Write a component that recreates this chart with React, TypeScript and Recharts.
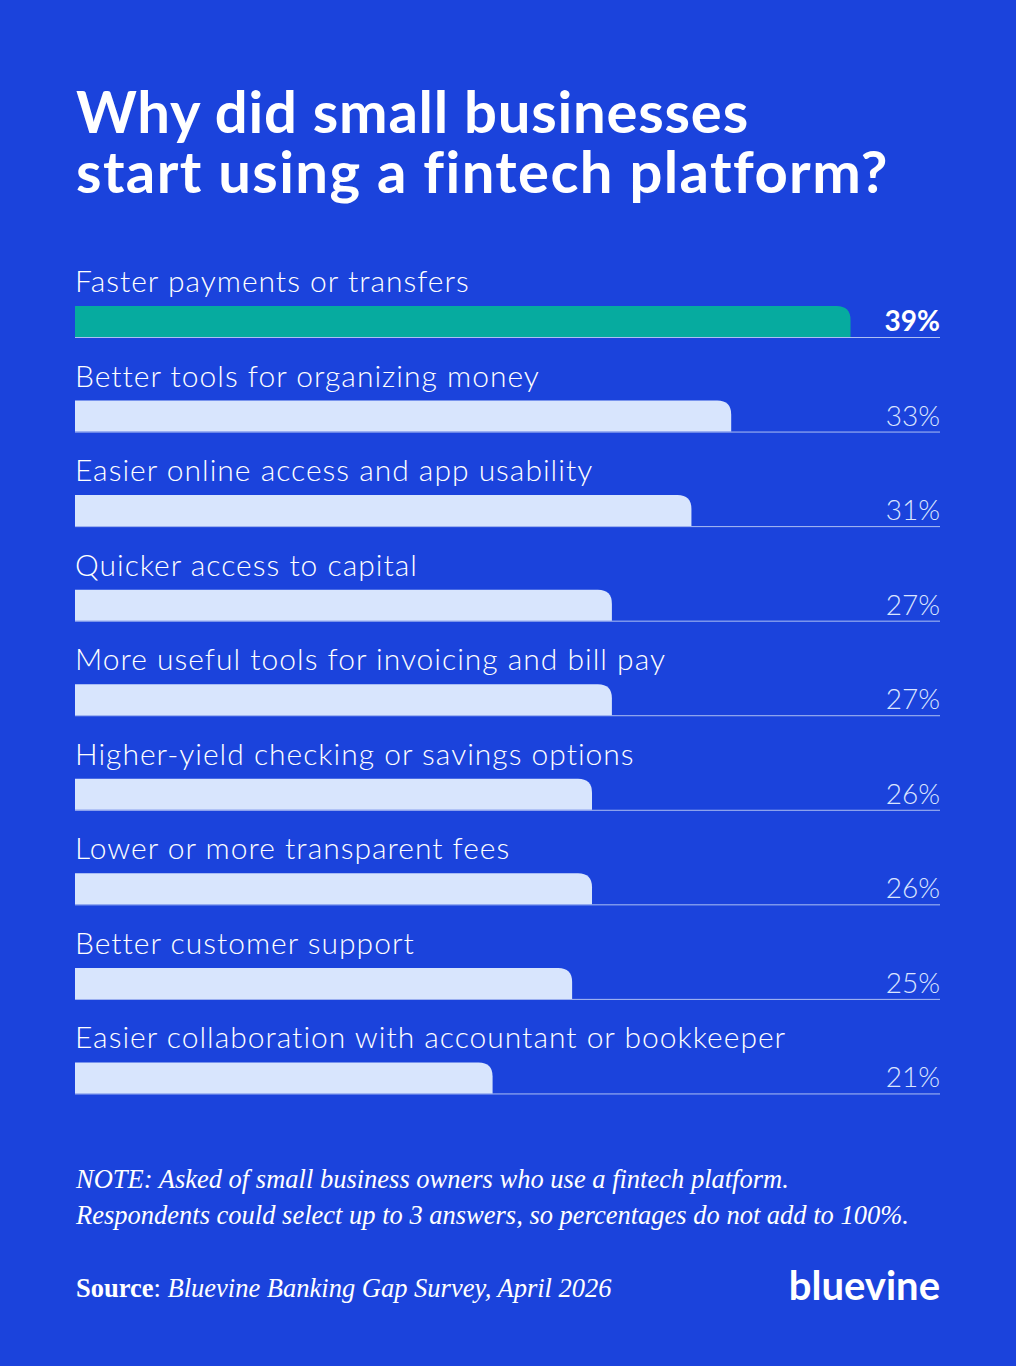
import React from "react";
import { BarChart, Bar, XAxis, YAxis } from "recharts";

// reasons small businesses started using a fintech platform (% of respondents)
const reasons = [
    "Faster payments or transfers",
    "Better tools for organizing money",
    "Easier online access and app usability",
    "Quicker access to capital",
    "More useful tools for invoicing and bill pay",
    "Higher-yield checking or savings options",
    "Lower or more transparent fees",
    "Better customer support",
    "Easier collaboration with accountant or bookkeeper",
];
const shares = [39, 33, 31, 27, 27, 26, 26, 25, 21];

const BG = "#1b43dc";
const TEAL = "#06ab9f";
const PALE = "#d8e5fd";
const RULE = "#aebff3";
const SANS = "Lato, 'Open Sans', sans-serif";
const SERIF = "'Liberation Serif', 'DejaVu Serif', serif";

const data = reasons.map((name, i) => ({ name, value: shares[i] }));

const RIGHT_EDGE = 940;

function RowShape(props: any) {
    const { x, y, width, height, index, payload } = props;
    const r = Math.min(14, width);
    const top = index === 0;
    const x2 = x + width;
    const y2 = y + height;
    const d = `M${x},${y2} L${x},${y} L${x2 - r},${y} Q${x2},${y} ${x2},${y + r} L${x2},${y2} Z`;
    return (
        <g>
            <line x1={x} x2={RIGHT_EDGE} y1={y2 + 0.5} y2={y2 + 0.5} stroke={RULE} strokeWidth={1} />
            <path d={d} fill={top ? TEAL : PALE} />
            <text x={x} y={y - 14} fill="#fff" fontFamily={SANS} fontSize={30} fontWeight={300} letterSpacing={1}>
                {payload.name}
            </text>
            <text
                x={RIGHT_EDGE}
                y={y2 - 6}
                textAnchor="end"
                fill={top ? "#fff" : "#dbe5ff"}
                fontFamily={SANS}
                fontSize={28}
                fontWeight={top ? 700 : 300}
            >
                {payload.value}%
            </text>
        </g>
    );
}

export default function App() {
    return (
        <div style={{ position: "absolute", left: 0, top: 0, width: 1016, height: 1366, background: BG, overflow: "hidden" }}>
            <svg width={1016} height={1366} style={{ position: "absolute", left: 0, top: 0 }}>
                <text fill="#fff" fontFamily={SANS} fontSize={58} fontWeight={700} style={{ fontVariantLigatures: "none" }}>
                    <tspan x={76} y={133} letterSpacing={0.8}>Why did small businesses</tspan>
                    <tspan x={76} y={193} letterSpacing={1.4}>start using a fintech platform?</tspan>
                </text>
                <g fill="#fff" fontFamily={SERIF} fontSize={26.5}>
                    <text x={76} y={1188} fontStyle="italic">
                        NOTE: Asked of small business owners who use a fintech platform.
                    </text>
                    <text x={76} y={1224} fontStyle="italic">
                        Respondents could select up to 3 answers, so percentages do not add to 100%.
                    </text>
                    <text x={76} y={1297}>
                        <tspan fontWeight={700}>Source</tspan>
                        <tspan>: </tspan>
                        <tspan fontStyle="italic">Bluevine Banking Gap Survey, April 2026</tspan>
                    </text>
                </g>
                <text x={940} y={1300} textAnchor="end" fill="#fff" fontFamily={SANS} fontSize={40} fontWeight={700}>
                    bluevine
                </text>
            </svg>
            <div style={{ position: "absolute", left: 0, top: 0 }}>
                <BarChart
                    width={1016}
                    height={1200}
                    data={data}
                    layout="vertical"
                    margin={{ top: 274, right: 76, bottom: 75, left: 75 }}
                >
                    <XAxis type="number" domain={[0, 43.5]} hide />
                    <YAxis type="category" dataKey="name" hide />
                    <Bar dataKey="value" barSize={31} shape={RowShape} isAnimationActive={false} />
                </BarChart>
            </div>
        </div>
    );
}
